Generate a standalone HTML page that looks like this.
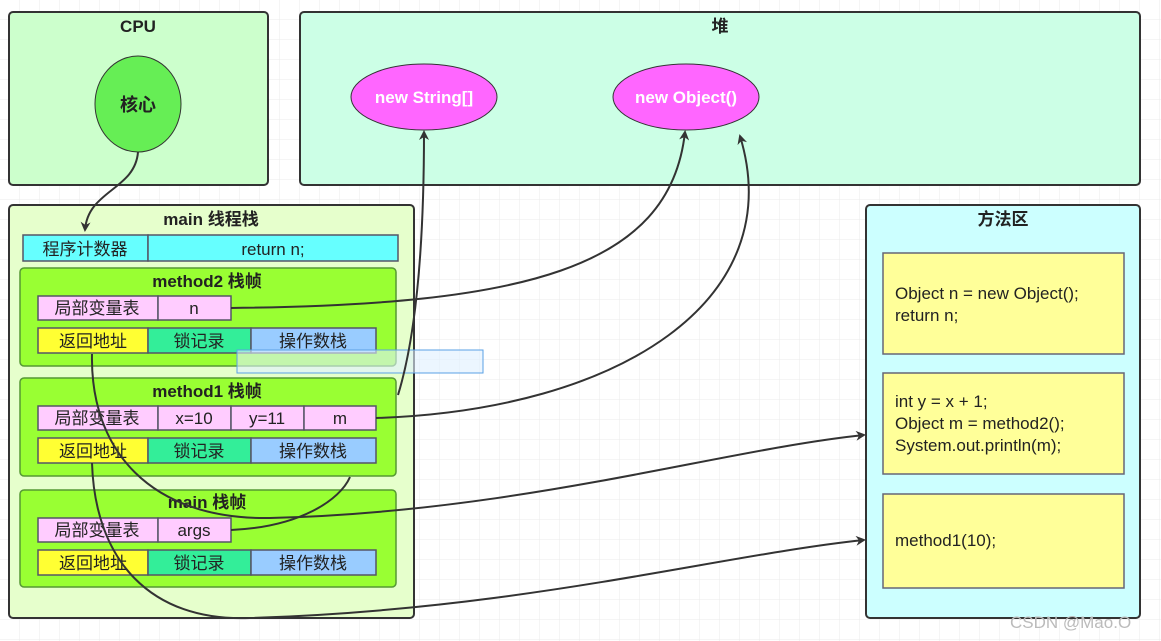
<!DOCTYPE html>
<html><head><meta charset="utf-8"><style>
html,body{margin:0;padding:0;background:#fff}
svg{display:block}
text{font-family:"Liberation Sans","Noto Sans CJK SC",sans-serif}
</style></head><body>
<svg width="1161" height="641" viewBox="0 0 1161 641" xmlns="http://www.w3.org/2000/svg">
<defs>
<pattern id="g" width="20" height="20" patternUnits="userSpaceOnUse"><path d="M20 0V20H0" fill="none" stroke="#ebebeb" stroke-width="1"/></pattern>
<marker id="a" markerWidth="10" markerHeight="10" refX="8" refY="5" orient="auto" markerUnits="userSpaceOnUse"><path d="M0,0 L10,5 L0,10 L3,5z" fill="#333"/></marker>
</defs>
<rect width="1161" height="641" fill="url(#g)"/>
<!-- CPU -->
<rect x="9" y="12" width="259" height="173" rx="4" fill="#ccffcc" stroke="#333" stroke-width="2"/>
<text x="138" y="32" font-size="17" font-weight="bold" text-anchor="middle" fill="#222">CPU</text>
<ellipse cx="138" cy="104" rx="43" ry="48" fill="#66ee55" stroke="#333"/>
<text x="138" y="111" font-size="18" font-weight="bold" text-anchor="middle" fill="#222">核心</text>
<!-- heap -->
<rect x="300" y="12" width="840" height="173" rx="4" fill="#ccffe6" stroke="#333" stroke-width="2"/>
<text x="720" y="32" font-size="17" font-weight="bold" text-anchor="middle" fill="#222">堆</text>
<ellipse cx="424" cy="97" rx="73" ry="33" fill="#ff66ff" stroke="#333"/>
<text x="424" y="103" font-size="17" font-weight="bold" text-anchor="middle" fill="#fff">new String[]</text>
<ellipse cx="686" cy="97" rx="73" ry="33" fill="#ff66ff" stroke="#333"/>
<text x="686" y="103" font-size="17" font-weight="bold" text-anchor="middle" fill="#fff">new Object()</text>
<!-- main thread stack -->
<rect x="9" y="205" width="405" height="413" rx="4" fill="#e6ffcc" stroke="#333" stroke-width="2"/>
<text x="211" y="225" font-size="17" font-weight="bold" text-anchor="middle" fill="#222">main 线程栈</text>
<g stroke="#556" stroke-width="1.5">
<rect x="23" y="235" width="125" height="26" fill="#66ffff"/>
<rect x="148" y="235" width="250" height="26" fill="#66ffff"/>
</g>
<g font-size="17" text-anchor="middle" fill="#222">
<text x="85" y="255">程序计数器</text><text x="273" y="255">return n;</text>
</g>
<!-- frames -->
<g stroke="#559933" stroke-width="1.5" fill="#99ff33">
<rect x="20" y="268" width="376" height="98" rx="4"/>
<rect x="20" y="378" width="376" height="98" rx="4"/>
<rect x="20" y="490" width="376" height="97" rx="4"/>
</g>
<g font-size="17" font-weight="bold" text-anchor="middle" fill="#222">
<text x="207" y="287">method2 栈帧</text>
<text x="207" y="397">method1 栈帧</text>
<text x="207" y="508">main 栈帧</text>
</g>
<g stroke="#556" stroke-width="1.5">
<rect x="38" y="296" width="120" height="24" fill="#ffccff"/><rect x="158" y="296" width="73" height="24" fill="#ffccff"/>
<rect x="38" y="328" width="110" height="25" fill="#ffff33"/><rect x="148" y="328" width="103" height="25" fill="#33ee99"/><rect x="251" y="328" width="125" height="25" fill="#99ccff"/>
<rect x="38" y="406" width="120" height="24" fill="#ffccff"/><rect x="158" y="406" width="73" height="24" fill="#ffccff"/><rect x="231" y="406" width="73" height="24" fill="#ffccff"/><rect x="304" y="406" width="72" height="24" fill="#ffccff"/>
<rect x="38" y="438" width="110" height="25" fill="#ffff33"/><rect x="148" y="438" width="103" height="25" fill="#33ee99"/><rect x="251" y="438" width="125" height="25" fill="#99ccff"/>
<rect x="38" y="518" width="120" height="24" fill="#ffccff"/><rect x="158" y="518" width="73" height="24" fill="#ffccff"/>
<rect x="38" y="550" width="110" height="25" fill="#ffff33"/><rect x="148" y="550" width="103" height="25" fill="#33ee99"/><rect x="251" y="550" width="125" height="25" fill="#99ccff"/>
</g>
<g font-size="17" text-anchor="middle" fill="#222">
<text x="97" y="314">局部变量表</text><text x="194" y="314">n</text>
<text x="93" y="347">返回地址</text><text x="199" y="347">锁记录</text><text x="313" y="347">操作数栈</text>
<text x="97" y="424">局部变量表</text><text x="194" y="424">x=10</text><text x="267" y="424">y=11</text><text x="340" y="424">m</text>
<text x="93" y="457">返回地址</text><text x="199" y="457">锁记录</text><text x="313" y="457">操作数栈</text>
<text x="97" y="536">局部变量表</text><text x="194" y="536">args</text>
<text x="93" y="569">返回地址</text><text x="199" y="569">锁记录</text><text x="313" y="569">操作数栈</text>
</g>
<rect x="237" y="350" width="246" height="23" fill="#dff0ff" fill-opacity="0.6" stroke="#5aa0e6" stroke-width="1"/>
<!-- method area -->
<rect x="866" y="205" width="274" height="413" rx="4" fill="#ccffff" stroke="#333" stroke-width="2"/>
<text x="1003" y="225" font-size="17" font-weight="bold" text-anchor="middle" fill="#222">方法区</text>
<g fill="#ffff99" stroke="#667" stroke-width="1.5">
<rect x="883" y="253" width="241" height="101"/>
<rect x="883" y="373" width="241" height="101"/>
<rect x="883" y="494" width="241" height="94"/>
</g>
<g font-size="17" fill="#222">
<text x="895" y="299">Object n = new Object();</text><text x="895" y="321">return n;</text>
<text x="895" y="407">int y = x + 1;</text><text x="895" y="429">Object m = method2();</text><text x="895" y="451">System.out.println(m);</text>
<text x="895" y="546">method1(10);</text>
</g>
<!-- connectors -->
<g fill="none" stroke="#333" stroke-width="2">
<path d="M138,152 C135,190 88,190 85,230" marker-end="url(#a)"/>
<path d="M231,308 C520,305 670,270 685,132" marker-end="url(#a)"/>
<path d="M376,418 C620,410 790,300 740,136" marker-end="url(#a)"/>
<path d="M398,395 C418,330 424,230 424,132" marker-end="url(#a)"/>
<path d="M231,530 C300,527 340,500 350,477"/>
<path d="M92,354 C90,450 150,520 270,518 C520,512 720,450 864,435" marker-end="url(#a)"/>
<path d="M92,463 C95,560 150,622 250,618 C520,610 720,555 864,540" marker-end="url(#a)"/>
</g>
<text x="1010" y="628" font-size="17" fill="#bbb">CSDN @Mao.O</text>
</svg>
</body></html>
